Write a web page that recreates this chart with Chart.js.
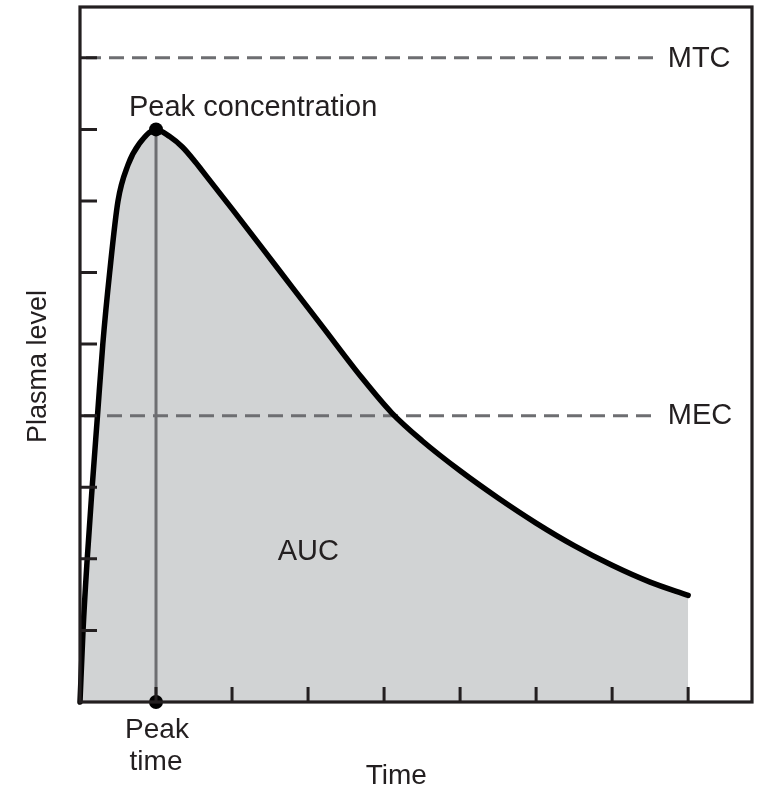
<!DOCTYPE html>
<html><head><meta charset="utf-8">
<script src="https://cdn.jsdelivr.net/npm/chart.js@4.4.1/dist/chart.umd.min.js"></script>
<style>html,body{margin:0;padding:0;background:#fff}#wrap{width:759px;height:786px;position:relative}</style>
</head><body><div id="wrap"><canvas id="c"></canvas></div>
<script>
// ---- data ----
const timeValues   = [0, 0.04, 0.095, 0.16, 0.23, 0.30, 0.39, 0.50, 0.63, 0.78, 1.0, 1.18, 1.35, 1.52, 1.66, 1.83, 2.0, 2.6, 3.2, 3.7, 4.1, 4.5, 5.0, 5.5, 6.0, 6.5, 7.0, 7.5, 8.0];
const plasmaValues = [0, 1, 2, 3, 4, 5, 6, 7, 7.5, 7.8, 8.0, 7.90, 7.75, 7.54, 7.35, 7.12, 6.89, 6.06, 5.23, 4.54, 4.04, 3.65, 3.23, 2.85, 2.50, 2.185, 1.91, 1.675, 1.49];
const xTickValues = [1, 2, 3, 4, 5, 6, 7, 8];
const yTickValues = [1, 2, 3, 4, 5, 6, 7, 8, 9];
const peakTime = 1;
const peakLevel = 8;
const mtcLevel = 9;
const mecLevel = 4;
const thresholdEnd = 7.6;
const xMax = 8.84;
const yMax = 9.71;
const labels = { mtc: 'MTC', mec: 'MEC', peak: 'Peak concentration', auc: 'AUC', peakTime: ['Peak', 'time'], xTitle: 'Time', yTitle: 'Plasma level' };

const INK = '#231f20';
const GREY = '#6d6e71';
const FAMILY = '"Liberation Sans", Arial, sans-serif';

const decor = {
  id: 'decor',
  afterDraw(chart) {
    const { ctx, chartArea: a, scales: { x, y } } = chart;
    ctx.save();
    // ticks (inward)
    ctx.strokeStyle = INK; ctx.lineWidth = 3; ctx.lineCap = 'butt';
    ctx.beginPath();
    yTickValues.forEach(v => { const py = y.getPixelForValue(v); ctx.moveTo(a.left, py); ctx.lineTo(a.left + 17, py); });
    xTickValues.forEach(v => { const px = x.getPixelForValue(v); ctx.moveTo(px, a.bottom); ctx.lineTo(px, a.bottom - 15); });
    ctx.stroke();
    // frame
    ctx.lineWidth = 3.2;
    ctx.strokeRect(a.left, a.top, a.right - a.left, a.bottom - a.top);
    // texts
    ctx.fillStyle = INK; ctx.font = '29px ' + FAMILY; ctx.textBaseline = 'alphabetic';
    ctx.textAlign = 'left';
    const endPx = x.getPixelForValue(thresholdEnd);
    ctx.fillText(labels.mtc, endPx + 10, y.getPixelForValue(mtcLevel) + 9);
    ctx.fillText(labels.mec, endPx + 10, y.getPixelForValue(mecLevel) + 8);
    ctx.fillText(labels.peak, x.getPixelForValue(peakTime) - 27, y.getPixelForValue(peakLevel) - 13);
    ctx.fillText(labels.auc, x.getPixelForValue(2.6), y.getPixelForValue(1.98));
    ctx.textAlign = 'center';
    ctx.font = '28px ' + FAMILY;
    const pt = x.getPixelForValue(peakTime);
    ctx.fillText(labels.peakTime[0], pt + 1, a.bottom + 36);
    ctx.fillText(labels.peakTime[1], pt, a.bottom + 68);
    ctx.fillText(labels.xTitle, x.getPixelForValue(4.16), a.bottom + 82);
    ctx.font = '27px ' + FAMILY;
    ctx.translate(46, (a.top + a.bottom) / 2 + 12);
    ctx.rotate(-Math.PI / 2);
    ctx.fillText(labels.yTitle, 0, 0);
    ctx.restore();
  }
};

new Chart(document.getElementById('c'), {
  type: 'line',
  data: {
    datasets: [
      { // peak dots
        data: [{ x: peakTime, y: peakLevel }, { x: peakTime, y: 0 }],
        showLine: false, pointRadius: 7, pointBackgroundColor: '#000', pointBorderWidth: 0, clip: false, order: 0
      },
      { // concentration curve
        data: timeValues.map((t, i) => ({ x: t, y: plasmaValues[i] })),
        borderColor: '#000', borderWidth: 5.5, borderCapStyle: 'round', borderJoinStyle: 'round',
        fill: 'origin', backgroundColor: '#d1d3d4', pointRadius: 0,
        cubicInterpolationMode: 'monotone', clip: false, order: 1
      },
      { // peak time line
        data: [{ x: peakTime, y: 0 }, { x: peakTime, y: peakLevel }],
        borderColor: GREY, borderWidth: 3, pointRadius: 0, fill: false, order: 2
      },
      { // MTC
        data: [{ x: 0, y: mtcLevel }, { x: thresholdEnd, y: mtcLevel }],
        borderColor: GREY, borderWidth: 3, borderDash: [15, 8], borderDashOffset: 17, pointRadius: 0, fill: false, order: 3
      },
      { // MEC
        data: [{ x: 0, y: mecLevel }, { x: thresholdEnd, y: mecLevel }],
        borderColor: GREY, borderWidth: 3, borderDash: [15, 8], borderDashOffset: 19, pointRadius: 0, fill: false, order: 3
      }
    ]
  },
  options: {
    responsive: true, maintainAspectRatio: false, animation: false,
    layout: { padding: { left: 80, top: 6, right: 3, bottom: 84 } },
    scales: {
      x: { type: 'linear', min: 0, max: xMax, display: false },
      y: { type: 'linear', min: 0, max: yMax, display: false }
    },
    plugins: { legend: { display: false }, tooltip: { enabled: false }, filler: { drawTime: 'beforeDatasetsDraw' } },
    events: []
  },
  plugins: [decor]
});
</script>
</body></html>
